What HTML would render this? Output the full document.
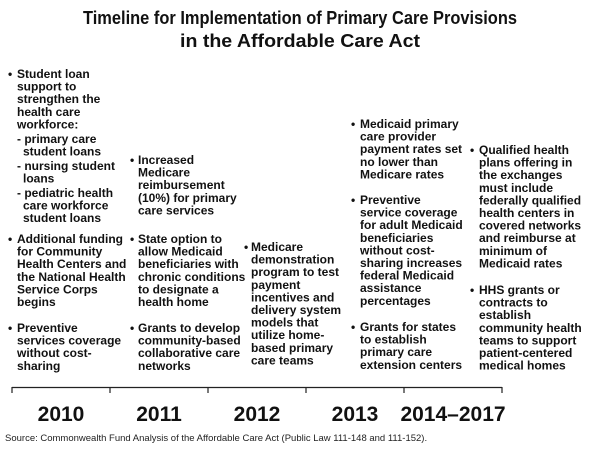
<!DOCTYPE html>
<html><head><meta charset="utf-8"><style>
html,body{margin:0;padding:0;background:#fff;}
svg{display:block;font-family:"Liberation Sans",Arial,sans-serif;}
.b{font-size:12px;font-weight:bold;fill:#111;}
</style></head><body>
<svg width="600" height="450" viewBox="0 0 600 450">
<rect width="600" height="450" fill="#fff"/>
<g font-weight="bold" font-size="18" fill="#111" text-anchor="middle">
<text x="300" y="24" textLength="434" lengthAdjust="spacingAndGlyphs">Timeline for Implementation of Primary Care Provisions</text>
<text x="300" y="47" textLength="240" lengthAdjust="spacingAndGlyphs">in the Affordable Care Act</text>
</g>
<g class="b">
<text x="8" y="78">•</text>
<text x="17" y="78">Student loan</text><text x="17" y="90.6">support to</text><text x="17" y="103.2">strengthen the</text><text x="17" y="115.8">health care</text><text x="17" y="128.4">workforce:</text>
<text x="17" y="143">- primary care</text><text x="23" y="155.6">student loans</text>
<text x="17" y="170">- nursing student</text><text x="23" y="182.6">loans</text>
<text x="17" y="197">- pediatric health</text><text x="23" y="209.6">care workforce</text><text x="23" y="222.2">student loans</text>
<text x="8" y="243">•</text>
<text x="17" y="243">Additional funding</text><text x="17" y="255.6">for Community</text><text x="17" y="268.2">Health Centers and</text><text x="17" y="280.8">the National Health</text><text x="17" y="293.4">Service Corps</text><text x="17" y="306">begins</text>
<text x="8" y="332">•</text>
<text x="17" y="332">Preventive</text><text x="17" y="344.6">services coverage</text><text x="17" y="357.2">without cost-</text><text x="17" y="369.8">sharing</text>
</g>
<g class="b">
<text x="130" y="164">•</text>
<text x="138" y="164">Increased</text><text x="138" y="176.6">Medicare</text><text x="138" y="189.2">reimbursement</text><text x="138" y="201.8">(10%) for primary</text><text x="138" y="214.4">care services</text>
<text x="130" y="243">•</text>
<text x="138" y="243">State option to</text><text x="138" y="255.6">allow Medicaid</text><text x="138" y="268.2">beneficiaries with</text><text x="138" y="280.8">chronic conditions</text><text x="138" y="293.4">to designate a</text><text x="138" y="306">health home</text>
<text x="130" y="332">•</text>
<text x="138" y="332">Grants to develop</text><text x="138" y="344.6">community-based</text><text x="138" y="357.2">collaborative care</text><text x="138" y="369.8">networks</text>
</g>
<g class="b">
<text x="244" y="251">•</text>
<text x="251" y="251">Medicare</text><text x="251" y="263.6">demonstration</text><text x="251" y="276.2">program to test</text><text x="251" y="288.8">payment</text><text x="251" y="301.4">incentives and</text><text x="251" y="314">delivery system</text><text x="251" y="326.6">models that</text><text x="251" y="339.2">utilize home-</text><text x="251" y="351.8">based primary</text><text x="251" y="364.4">care teams</text>
</g>
<g class="b">
<text x="351" y="128">•</text>
<text x="360" y="128">Medicaid primary</text><text x="360" y="140.6">care provider</text><text x="360" y="153.2">payment rates set</text><text x="360" y="165.8">no lower than</text><text x="360" y="178.4">Medicare rates</text>
<text x="351" y="204">•</text>
<text x="360" y="204">Preventive</text><text x="360" y="216.6">service coverage</text><text x="360" y="229.2">for adult Medicaid</text><text x="360" y="241.8">beneficiaries</text><text x="360" y="254.4">without cost-</text><text x="360" y="267">sharing increases</text><text x="360" y="279.6">federal Medicaid</text><text x="360" y="292.2">assistance</text><text x="360" y="304.8">percentages</text>
<text x="351" y="331">•</text>
<text x="360" y="331">Grants for states</text><text x="360" y="343.6">to establish</text><text x="360" y="356.2">primary care</text><text x="360" y="368.8">extension centers</text>
</g>
<g class="b">
<text x="470" y="154">•</text>
<text x="479" y="154">Qualified health</text><text x="479" y="166.6">plans offering in</text><text x="479" y="179.2">the exchanges</text><text x="479" y="191.8">must include</text><text x="479" y="204.4">federally qualified</text><text x="479" y="217">health centers in</text><text x="479" y="229.6">covered networks</text><text x="479" y="242.2">and reimburse at</text><text x="479" y="254.8">minimum of</text><text x="479" y="267.4">Medicaid rates</text>
<text x="470" y="294">•</text>
<text x="479" y="294">HHS grants or</text><text x="479" y="306.6">contracts to</text><text x="479" y="319.2">establish</text><text x="479" y="331.8">community health</text><text x="479" y="344.4">teams to support</text><text x="479" y="357">patient-centered</text><text x="479" y="369.6">medical homes</text>
</g>
<g stroke="#222" stroke-width="1.2">
<line x1="12" y1="387.5" x2="502" y2="387.5"/>
<line x1="12" y1="387" x2="12" y2="393"/><line x1="110" y1="387" x2="110" y2="393"/><line x1="208" y1="387" x2="208" y2="393"/><line x1="306" y1="387" x2="306" y2="393"/><line x1="404" y1="387" x2="404" y2="393"/><line x1="502" y1="387" x2="502" y2="393"/>
</g>
<g font-weight="bold" font-size="21" fill="#111" text-anchor="middle">
<text x="61" y="421">2010</text><text x="159" y="421">2011</text><text x="257" y="421">2012</text><text x="355" y="421">2013</text><text x="453" y="421">2014–2017</text>
</g>
<text x="5" y="441" font-size="9.5" fill="#222">Source: Commonwealth Fund Analysis of the Affordable Care Act (Public Law 111-148 and 111-152).</text>
</svg>
</body></html>
